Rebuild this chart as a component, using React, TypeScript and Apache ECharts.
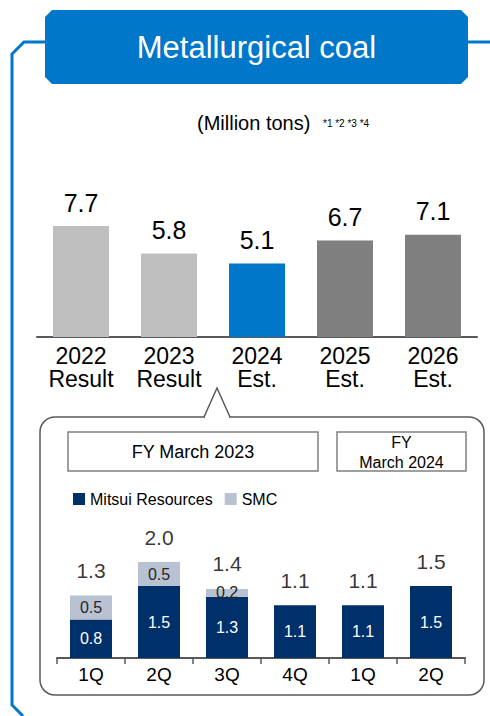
import React, { useEffect, useRef } from "react";
import * as echarts from "echarts";

const yearLabels = ["2022\nResult", "2023\nResult", "2024\nEst.", "2025\nEst.", "2026\nEst."];
const annualValues = [7.7, 5.8, 5.1, 6.7, 7.1];
const annualColors = ["#BFBFBF", "#BFBFBF", "#0077C8", "#7F7F7F", "#7F7F7F"];

const quarterLabels = ["1Q", "2Q", "3Q", "4Q", "1Q", "2Q"];
const mitsuiValues = [0.8, 1.5, 1.27, 1.1, 1.1, 1.5];
const smcValues = [0.5, 0.5, 0.17, 0, 0, 0];

const FONT = "'Liberation Sans', Arial, Helvetica, sans-serif";
const BLUE = "#0077C8";
const NAVY = "#00306A";
const SMC = "#B9C2D2";
const AXIS = "#595959";

export default function App() {
  const ref = useRef<HTMLDivElement>(null);

  useEffect(() => {
    if (!ref.current) return;
    const chart = echarts.init(ref.current, undefined, { renderer: "svg" });
    const totals = mitsuiValues.map((v, i) => +(v + smcValues[i]).toFixed(2));

    chart.setOption({
      animation: false,
      textStyle: { fontFamily: FONT },
      grid: [
        { left: 37, right: 13, top: 193, bottom: 379, containLabel: false },
        { left: 57, right: 25, top: 514, bottom: 58, containLabel: false },
      ],
      xAxis: [
        {
          type: "category",
          gridIndex: 0,
          data: yearLabels,
          axisLine: { lineStyle: { color: AXIS, width: 2 } },
          axisTick: { show: false },
          axisLabel: {
            color: "#000",
            fontSize: 23,
            lineHeight: 23,
            margin: 7,
            fontFamily: FONT,
            interval: 0,
          },
        },
        {
          type: "category",
          gridIndex: 1,
          data: quarterLabels,
          axisLine: { lineStyle: { color: AXIS, width: 2 } },
          axisTick: { show: true, length: 6, lineStyle: { color: AXIS, width: 1.5 } },
          axisLabel: { color: "#000", fontSize: 19, margin: 7, fontFamily: FONT, interval: 0 },
        },
      ],
      yAxis: [
        { type: "value", gridIndex: 0, min: 0, max: 10, show: false },
        { type: "value", gridIndex: 1, min: 0, max: 3, show: false },
      ],
      legend: {
        data: ["Mitsui Resources", "SMC"],
        left: 68,
        top: 486,
        itemWidth: 12,
        itemHeight: 12,
        itemGap: 12,
        icon: "rect",
        selectedMode: false,
        textStyle: { fontSize: 16, color: "#000", fontFamily: FONT },
      },
      series: [
        {
          type: "bar",
          xAxisIndex: 0,
          yAxisIndex: 0,
          barWidth: 56,
          data: annualValues.map((v, i) => ({ value: v, itemStyle: { color: annualColors[i] } })),
          label: {
            show: true,
            position: "top",
            distance: 11,
            fontSize: 25,
            color: "#000",
            fontFamily: FONT,
            formatter: (p: any) => Number(p.value).toFixed(1),
          },
        },
        {
          name: "Mitsui Resources",
          type: "bar",
          xAxisIndex: 1,
          yAxisIndex: 1,
          stack: "q",
          barWidth: 42,
          itemStyle: { color: NAVY },
          data: mitsuiValues,
          label: {
            show: true,
            position: "inside",
            fontSize: 16,
            color: "#fff",
            fontFamily: FONT,
            formatter: (p: any) => Number(p.value).toFixed(1),
          },
        },
        {
          name: "SMC",
          type: "bar",
          xAxisIndex: 1,
          yAxisIndex: 1,
          stack: "q",
          barWidth: 42,
          itemStyle: { color: SMC },
          data: smcValues,
          label: {
            show: true,
            position: "inside",
            fontSize: 16,
            color: "#262626",
            fontFamily: FONT,
            formatter: (p: any) => (p.value > 0 ? Number(p.value).toFixed(1) : ""),
          },
        },
        {
          name: "Total",
          type: "scatter",
          xAxisIndex: 1,
          yAxisIndex: 1,
          symbol: "circle",
          symbolSize: 1,
          itemStyle: { color: "rgba(0,0,0,0)" },
          data: totals,
          label: {
            show: true,
            position: "top",
            distance: 14,
            fontSize: 21,
            color: "#000",
            fontFamily: FONT,
            formatter: (p: any) => Number(p.value).toFixed(1),
          },
        },
      ],
      graphic: [
        {
          type: "polyline",
          shape: { points: [[46, 42], [24, 42], [12, 54], [12, 705], [23, 716]] },
          style: { stroke: BLUE, lineWidth: 3, fill: "none" },
        },
        {
          type: "line",
          shape: { x1: 466, y1: 42, x2: 490, y2: 42 },
          style: { stroke: BLUE, lineWidth: 3 },
        },
        {
          type: "polygon",
          shape: {
            points: [
              [52, 10], [461, 10], [468, 17], [468, 77],
              [461, 84], [52, 84], [45, 77], [45, 17],
            ],
          },
          style: { fill: BLUE },
        },
        {
          type: "text",
          x: 256.5,
          y: 47,
          style: {
            text: "Metallurgical coal",
            fill: "#fff",
            fontSize: 31,
            fontFamily: FONT,
            textAlign: "center",
            textVerticalAlign: "middle",
          },
        },
        {
          type: "text",
          x: 197,
          y: 123,
          style: {
            text: "(Million tons)",
            fill: "#000",
            fontSize: 20,
            fontFamily: FONT,
            textAlign: "left",
            textVerticalAlign: "middle",
          },
        },
        {
          type: "text",
          x: 323,
          y: 123,
          style: {
            text: "*1 *2 *3 *4",
            fill: "#000",
            fontSize: 10,
            fontFamily: FONT,
            textAlign: "left",
            textVerticalAlign: "middle",
          },
        },
        {
          type: "rect",
          shape: { x: 40, y: 417, width: 444, height: 278, r: 15 },
          style: { fill: "none", stroke: AXIS, lineWidth: 1.5 },
        },
        {
          type: "rect",
          shape: { x: 205, y: 414, width: 24, height: 6 },
          style: { fill: "#fff" },
        },
        {
          type: "polyline",
          shape: { points: [[204, 417], [217, 388], [230, 417]] },
          style: { stroke: AXIS, lineWidth: 1.5, fill: "none" },
        },
        {
          type: "rect",
          shape: { x: 68, y: 432, width: 250, height: 39 },
          style: { fill: "#fff", stroke: "#808080", lineWidth: 1.5 },
        },
        {
          type: "text",
          x: 193,
          y: 452,
          style: {
            text: "FY March 2023",
            fill: "#000",
            fontSize: 18,
            fontFamily: FONT,
            textAlign: "center",
            textVerticalAlign: "middle",
          },
        },
        {
          type: "rect",
          shape: { x: 337, y: 432, width: 129, height: 39 },
          style: { fill: "#fff", stroke: "#808080", lineWidth: 1.5 },
        },
        {
          type: "text",
          x: 401.5,
          y: 452,
          style: {
            text: "FY\nMarch 2024",
            fill: "#000",
            fontSize: 16,
            lineHeight: 20,
            fontFamily: FONT,
            textAlign: "center",
            textVerticalAlign: "middle",
          },
        },
      ],
    });

    return () => chart.dispose();
  }, []);

  return (
    <div
      ref={ref}
      style={{ position: "absolute", left: 0, top: 0, width: 490, height: 716, background: "#fff" }}
    />
  );
}
